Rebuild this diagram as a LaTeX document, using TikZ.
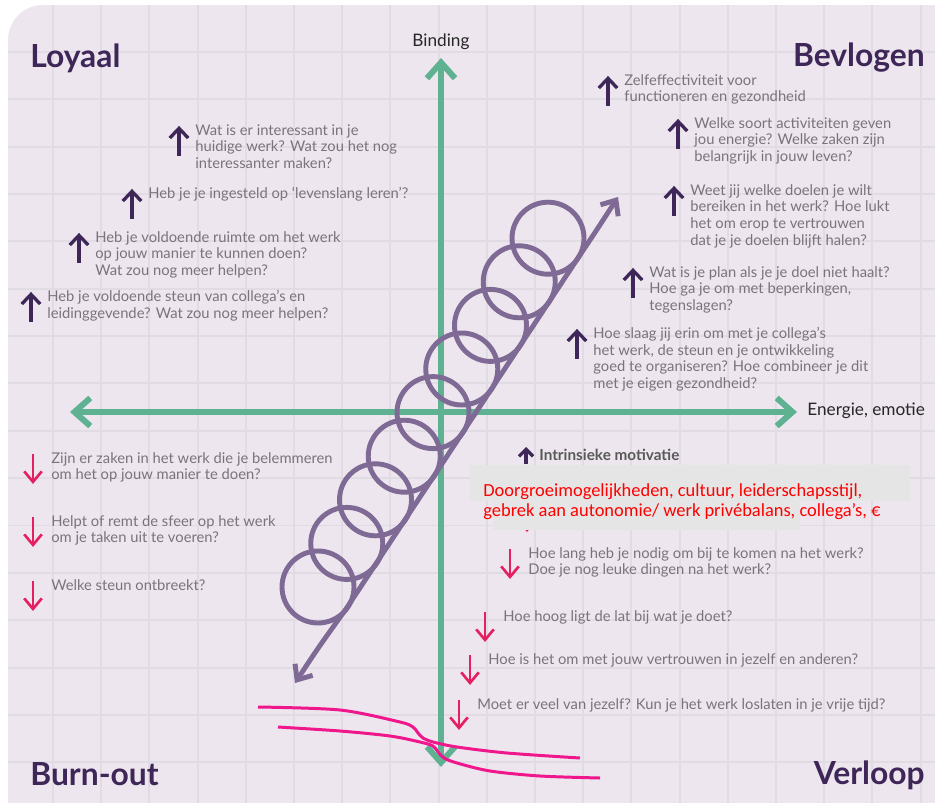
\documentclass[tikz,border=0pt]{standalone}
\usepackage{fontspec}
\setmainfont{Lato}
\newfontfamily\calibri{Carlito}
\usetikzlibrary{arrows.meta}
\definecolor{kaart}{RGB}{237,230,238}
\definecolor{raster}{RGB}{225,219,228}
\definecolor{groen}{RGB}{94,178,145}
\definecolor{spiraalpaars}{RGB}{126,106,148}
\definecolor{paars}{RGB}{62,38,88}
\definecolor{rood}{RGB}{229,32,96}
\definecolor{roze}{RGB}{240,22,140}
\definecolor{tekst}{RGB}{122,115,122}
\definecolor{vak}{RGB}{229,229,229}
\definecolor{fel}{RGB}{255,0,0}

\tikzset{
  vraag/.style={anchor=north west, inner sep=0pt, align=left, text=tekst, yshift=0.6pt, font=\fontsize{8.4}{9.47}\selectfont},
  hoek/.style={inner sep=0pt, text=paars, font=\fontsize{18.1}{20}\selectfont\bfseries},
  aslabel/.style={inner sep=0pt, text=black!85, font=\fontsize{9.8}{11}\selectfont},
  as/.style={draw=groen, line width=3.4pt, {Straight Barb[length=9pt,width=16pt]}-{Straight Barb[length=9pt,width=16pt]}},
  spiraal/.style={draw=spiraalpaars, line width=2.8pt},
  omhoog/.style={draw=paars, line width=1.9pt, -{Straight Barb[length=5.5pt,width=10.5pt]}},
  omlaag/.style={draw=rood, line width=1.5pt, -{Straight Barb[length=6pt,width=10pt]}},
  golf/.style={draw=roze, line width=1.7pt},
}

\begin{document}
\begin{tikzpicture}[x=0.02cm,y=-0.02cm]
\useasboundingbox (0,0) rectangle (935,803);
\fill[white] (0,0) rectangle (935,803);
\begin{scope}
  \clip[rounded corners=20] (8,5) rectangle (980,850);
  \fill[kaart] (8,5) rectangle (980,850);
  \foreach \k in {0,...,18} \draw[raster, line width=1.1pt] ({53+48.2*\k},5) -- ++(0,820);
  \foreach \k in {0,...,15} \draw[raster, line width=1.1pt] (8,{52+47.35*\k}) -- ++(960,0);
\end{scope}

\coordinate (boven) at (441,58);
\coordinate (onder) at (441,767);
\coordinate (links) at (70,412);
\coordinate (rechts) at (797,412);
\draw[as] (onder) -- (boven);
\draw[as] (links) -- (rechts);
\node[aslabel, anchor=base] (binding) at (441,47) {Binding};
\node[aslabel, anchor=west] (energie) at (807,411) {Energie, emotie};

\foreach \i in {0,...,8}
  \draw[spiraal] ({318+28.75*\i},{587-43.6*\i}) circle[radius=36];
\coordinate (spiraalonder) at (295,683);
\coordinate (spiraalboven) at (618,197);
\draw[spiraal, {Straight Barb[length=7pt,width=12pt]}-{Straight Barb[length=7pt,width=12pt]}]
  (spiraalonder) .. controls (318,648) .. (346,609) -- (576,261) .. controls (598,228) .. (spiraalboven);

\draw[golf] plot[smooth, tension=0.5] coordinates {(258,707) (340,710) (400,722) (413,727) (418,733) (423,738) (433,742) (457,747) (507,753) (580,758)};
\draw[golf] plot[smooth, tension=0.5] coordinates {(278,727) (340,731) (390,736) (420,742) (433,746) (438,752) (444,758) (457,763) (490,771) (540,776) (600,778)};

\draw[omlaag] (527,504) -- ++(0,28);
\fill[vak] (470,465) rectangle (910,501);
\fill[vak] (493,501) rectangle (800,530);
\node[anchor=west, inner sep=0pt, text=fel, font=\calibri\fontsize{10.5}{11.3}\selectfont, align=left] (factoren) at (483,502)
  {Doorgroeimogelijkheden, cultuur, leiderschapsstijl,\\gebrek aan autonomie/ werk privébalans, collega’s, €};

\node[anchor=west, inner sep=0pt, text=black!65, font=\fontsize{8.7}{9}\selectfont\bfseries] (intrinsiek) at (539,455) {Intrinsieke motivatie};
\draw[draw=paars, line width=1.9pt, -{Straight Barb[length=4pt,width=8pt]}] ([shift={(-13,9)}]intrinsiek.west) -- ++(0,-17);

\node[hoek, anchor=base west] (loyaal) at (30,68) {Loyaal};
\node[hoek, anchor=base east] (bevlogen) at (925,67) {Bevlogen};
\node[hoek, anchor=base west] (burnout) at (30,785) {Burn-out};
\node[hoek, anchor=base east] (verloop) at (925,784) {Verloop};

\node[vraag] (o1) at (195,125) {Wat is er interessant in je\\huidige werk? Wat zou het nog\\interessanter maken?};
\node[vraag] (o2) at (148,188) {Heb je je ingesteld op ‘levenslang leren’?};
\node[vraag] (o3) at (95,232) {Heb je voldoende ruimte om het werk\\op jouw manier te kunnen doen?\\Wat zou nog meer helpen?};
\node[vraag] (o4) at (47,291) {Heb je voldoende steun van collega’s en\\leidinggevende? Wat zou nog meer helpen?};
\node[vraag] (o5) at (624,75) {Zelfeffectiviteit voor\\functioneren en gezondheid};
\node[vraag] (o6) at (694,118) {Welke soort activiteiten geven\\jou energie? Welke zaken zijn\\belangrijk in jouw leven?};
\node[vraag] (o7) at (690,185) {Weet jij welke doelen je wilt\\bereiken in het werk? Hoe lukt\\het om erop te vertrouwen\\dat je je doelen blijft halen?};
\node[vraag] (o8) at (649,267) {Wat is je plan als je je doel niet haalt?\\Hoe ga je om met beperkingen,\\tegenslagen?};
\node[vraag] (o9) at (593,328) {Hoe slaag jij erin om met je collega’s\\het werk, de steun en je ontwikkeling\\goed te organiseren? Hoe combineer je dit\\met je eigen gezondheid?};
\foreach \n in {o1,o2,o3,o4,o5,o6,o7,o8,o9}
  \draw[omhoog] ([shift={(-16,32)}]\n.north west) -- ++(0,-30);

\node[vraag] (n1) at (51,453) {Zijn er zaken in het werk die je belemmeren\\om het op jouw manier te doen?};
\node[vraag] (n2) at (51,516) {Helpt of remt de sfeer op het werk\\om je taken uit te voeren?};
\node[vraag] (n3) at (51,580) {Welke steun ontbreekt?};
\node[vraag] (n4) at (528,548) {Hoe lang heb je nodig om bij te komen na het werk?\\Doe je nog leuke dingen na het werk?};
\node[vraag] (n5) at (503,611) {Hoe hoog ligt de lat bij wat je doet?};
\node[vraag] (n6) at (488,654) {Hoe is het om met jouw vertrouwen in jezelf en anderen?};
\node[vraag] (n7) at (477,699) {Moet er veel van jezelf? Kun je het werk loslaten in je vrije tijd?};
\foreach \n in {n1,n2,n3,n4,n5,n6,n7}
  \draw[omlaag] ([shift={(-18,2)}]\n.north west) -- ++(0,30);
\end{tikzpicture}
\end{document}
